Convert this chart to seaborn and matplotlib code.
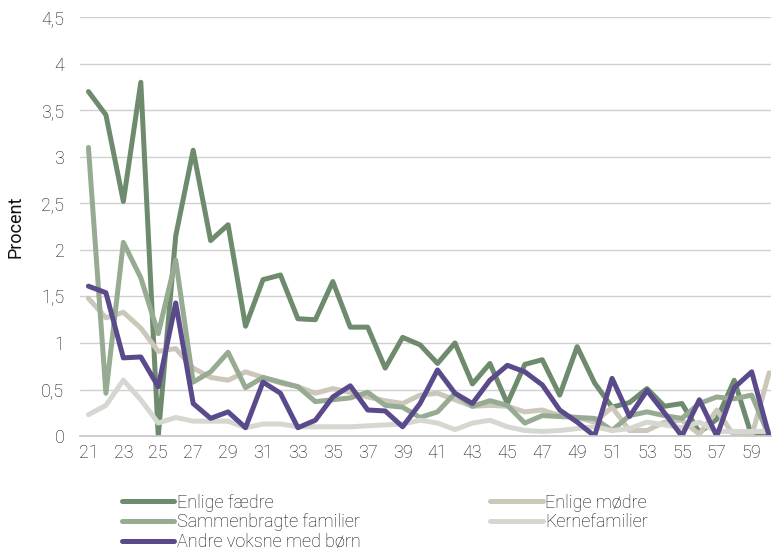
import matplotlib
matplotlib.use("Agg")
import matplotlib.pyplot as plt
import seaborn as sns
import pandas as pd

# Alder 21-60
ages = list(range(21, 61))

enlige_faedre = [3.70, 3.45, 2.52, 3.80, 0.00, 2.15, 3.07, 2.10, 2.27, 1.18,
                 1.68, 1.73, 1.26, 1.25, 1.66, 1.17, 1.17, 0.73, 1.06, 0.98,
                 0.78, 1.00, 0.56, 0.78, 0.35, 0.77, 0.82, 0.44, 0.96, 0.57,
                 0.31, 0.36, 0.51, 0.32, 0.35, 0.04, 0.18, 0.60, 0.00, 0.00]
enlige_moedre = [1.48, 1.27, 1.33, 1.16, 0.91, 0.94, 0.73, 0.63, 0.60, 0.69,
                 0.63, 0.57, 0.53, 0.46, 0.51, 0.47, 0.42, 0.38, 0.35, 0.44,
                 0.46, 0.39, 0.32, 0.33, 0.32, 0.26, 0.28, 0.22, 0.20, 0.15,
                 0.31, 0.06, 0.06, 0.15, 0.17, 0.02, 0.28, 0.00, 0.00, 0.68]
sammenbragte = [3.10, 0.46, 2.08, 1.70, 1.10, 1.89, 0.58, 0.69, 0.90, 0.52,
                0.63, 0.58, 0.53, 0.37, 0.39, 0.41, 0.47, 0.33, 0.31, 0.20,
                0.26, 0.46, 0.32, 0.38, 0.33, 0.14, 0.22, 0.21, 0.20, 0.19,
                0.06, 0.22, 0.26, 0.22, 0.19, 0.35, 0.42, 0.40, 0.44, 0.00]
kernefamilier = [0.23, 0.33, 0.60, 0.39, 0.14, 0.20, 0.16, 0.16, 0.16, 0.09,
                 0.13, 0.13, 0.10, 0.10, 0.10, 0.10, 0.11, 0.12, 0.13, 0.17,
                 0.14, 0.07, 0.14, 0.17, 0.10, 0.06, 0.05, 0.06, 0.08, 0.10,
                 0.06, 0.08, 0.15, 0.12, 0.09, 0.15, 0.05, 0.05, 0.05, 0.05]
andre_voksne = [1.61, 1.54, 0.84, 0.85, 0.53, 1.43, 0.35, 0.19, 0.26, 0.09,
                0.58, 0.46, 0.09, 0.17, 0.42, 0.54, 0.28, 0.27, 0.10, 0.35,
                0.71, 0.46, 0.35, 0.60, 0.76, 0.69, 0.55, 0.28, 0.15, 0.00,
                0.62, 0.21, 0.49, 0.25, 0.00, 0.39, 0.00, 0.52, 0.69, 0.00]

series_names = ["Enlige fædre", "Enlige mødre", "Sammenbragte familier",
                "Kernefamilier", "Andre voksne med børn"]
colors = ["#6e8b6e", "#cbc7ba", "#97aa92", "#d5d8d0", "#5b4a8b"]

df = pd.DataFrame({"alder": ages,
                   "Enlige fædre": enlige_faedre,
                   "Enlige mødre": enlige_moedre,
                   "Sammenbragte familier": sammenbragte,
                   "Kernefamilier": kernefamilier,
                   "Andre voksne med børn": andre_voksne})
long_df = df.melt(id_vars="alder", var_name="gruppe", value_name="procent")

sns.set_theme(style="white")
plt.rcParams['font.family'] = ['Roboto', 'DejaVu Sans']
plt.rcParams['font.weight'] = 'light'

fig = plt.figure(figsize=(7.74, 5.52), dpi=100)
ax = fig.add_axes([0.103, 0.21, 0.893, 0.759])

sns.lineplot(data=long_df, x="alder", y="procent", hue="gruppe",
             hue_order=series_names, palette=colors, linewidth=3.6,
             ax=ax, legend=False)

ax.set_xlim(20.5, 60.1)
ax.set_ylim(0, 4.5)
ax.set_xticks(range(21, 60, 2))
ax.set_yticks([0, 0.5, 1, 1.5, 2, 2.5, 3, 3.5, 4, 4.5])
ax.set_yticklabels(["0", "0,5", "1", "1,5", "2", "2,5", "3", "3,5", "4", "4,5"])
ax.yaxis.grid(True, color="#d0d0d0", linewidth=1)
ax.set_axisbelow(True)
for s in ["top", "right", "left"]:
    ax.spines[s].set_visible(False)
ax.spines["bottom"].set_color("#c8c8c8")
ax.tick_params(axis="y", length=0, labelsize=13, colors="#111111", pad=11)
ax.tick_params(axis="x", length=0, labelsize=13, colors="#111111", pad=6)
ax.set_xlabel("")
ax.set_ylabel("Procent", fontsize=13, color="#111111", labelpad=12)

# Legend: two columns below the chart
lines = ax.get_lines()
order = [0, 2, 4, 1, 3]
leg = ax.legend([lines[i] for i in order], [series_names[i] for i in order],
                ncol=2, loc="upper left", bbox_to_anchor=(0.05, -0.12),
                frameon=False, fontsize=13, handlelength=2.9, handletextpad=0.15,
                labelspacing=0.1, columnspacing=7.2, borderaxespad=0)
for t in leg.get_texts():
    t.set_color("#111111")

fig.savefig("out.png", dpi=100)
